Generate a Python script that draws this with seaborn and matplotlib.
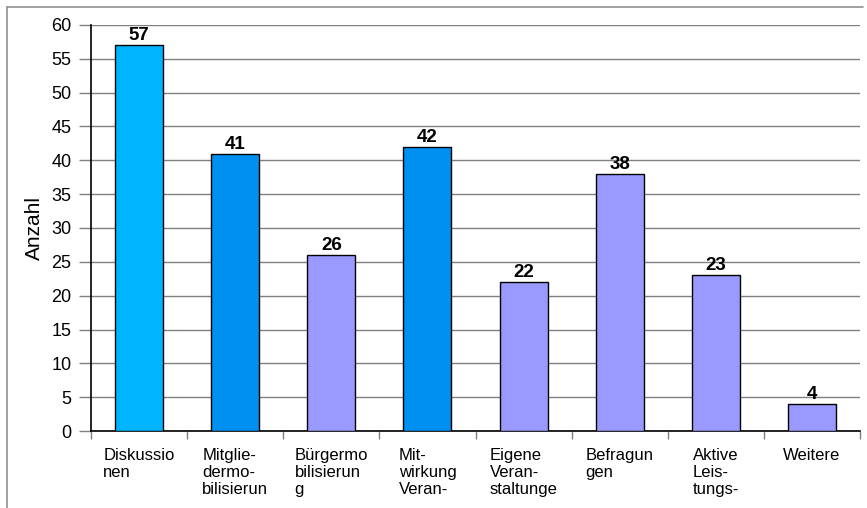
import matplotlib
matplotlib.use("Agg")
import matplotlib.pyplot as plt
from matplotlib.lines import Line2D
from matplotlib.ticker import FixedLocator, MultipleLocator
import seaborn as sns
import pandas as pd

# Data
categories = ["Diskussio\nnen", "Mitglie-\ndermo-\nbilisierun", "Bürgermo\nbilisierun\ng",
              "Mit-\nwirkung\nVeran-", "Eigene\nVeran-\nstaltunge", "Befragun\ngen",
              "Aktive\nLeis-\ntungs-", "Weitere"]
values = [57, 41, 26, 42, 22, 38, 23, 4]
bar_colors = ["#00B4FF", "#0090F2", "#9999FF", "#0090F2", "#9999FF", "#9999FF", "#9999FF", "#9999FF"]

sns.set_style("white")
plt.rcParams["font.family"] = ["Liberation Sans", "DejaVu Sans"]
plt.rcParams.update({
    "text.color": "black", "axes.labelcolor": "black",
    "xtick.color": "black", "ytick.color": "black",
    "xtick.bottom": True, "ytick.left": True,
})

df = pd.DataFrame({"Kategorie": categories, "Anzahl": values})

fig = plt.figure(figsize=(8.67, 5.08), dpi=100)
ax = fig.add_axes([91 / 867, 77 / 508, 769 / 867, 406 / 508])

sns.barplot(data=df, x="Kategorie", y="Anzahl", hue="Kategorie", palette=bar_colors,
            saturation=1, legend=False, width=0.5, edgecolor="black", linewidth=1.0,
            ax=ax, zorder=3)

ax.set_xlim(-0.5, len(categories) - 0.5)
ax.set_ylim(0, 60)
ax.yaxis.set_major_locator(MultipleLocator(5))
ax.grid(axis="y", color="#808080", linewidth=1.0, zorder=0)
ax.set_axisbelow(True)

# Category labels centred in each slot, tick marks on slot boundaries
ax.set_xticks(range(len(categories)))
ax.set_xticklabels(categories, fontsize=12, multialignment="left", linespacing=1.2)
ax.tick_params(axis="x", which="major", length=0, pad=12, labelcolor="black")
ax.xaxis.set_minor_locator(FixedLocator([i - 0.5 for i in range(len(categories) + 1)]))
ax.tick_params(axis="x", which="minor", bottom=True, length=6, width=1,
               color="#808080", direction="out")
for lbl in ax.get_xticklabels():
    lbl.set_verticalalignment("top")

ax.tick_params(axis="y", which="major", left=True, length=9, width=1, color="#808080",
               direction="out", labelsize=13, pad=5, labelcolor="black")

ax.set_xlabel("")
ax.set_ylabel("Anzahl", fontsize=15, labelpad=5)

for s in ["top", "right"]:
    ax.spines[s].set_visible(False)
for s in ["left", "bottom"]:
    ax.spines[s].set_color("black")
    ax.spines[s].set_linewidth(1.2)

# Value labels above the bars
for i, v in enumerate(values):
    ax.text(i, v + 0.15, str(v), ha="center", va="bottom", fontsize=13.5,
            fontweight="bold", color="black")

# Outer frame lines
fig.add_artist(Line2D([7 / 867, 7 / 867], [0, 501 / 508], transform=fig.transFigure,
                      color="#909090", linewidth=1.2))
fig.add_artist(Line2D([7 / 867, 863 / 867], [501 / 508, 501 / 508], transform=fig.transFigure,
                      color="#909090", linewidth=1.2))

fig.savefig("out.png", dpi=100)
